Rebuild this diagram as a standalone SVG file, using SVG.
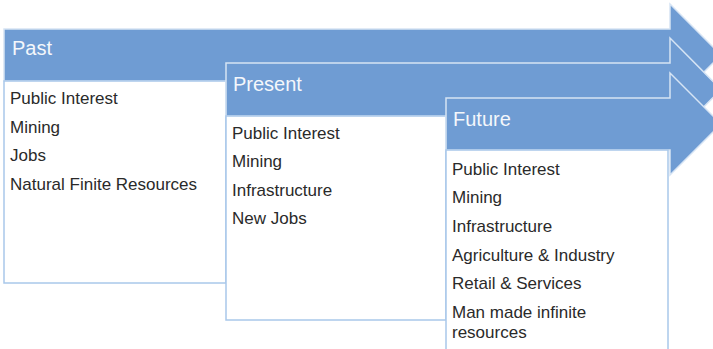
<svg xmlns="http://www.w3.org/2000/svg" width="713" height="349" viewBox="0 0 713 349">
<style>
.arrow{fill:#6f9cd3;stroke:#d6e4f4;stroke-width:1.5}
.box{fill:#ffffff;stroke:#a9c8ea;stroke-width:1.5}
.hd{font-family:"Liberation Sans",Arial,sans-serif;font-size:20px;fill:#f4f7fb}
.tx{font-family:"Liberation Sans",Arial,sans-serif;font-size:17px;fill:#2a2a2a}
</style>
<rect width="713" height="349" fill="#ffffff"/>
<g id="past">
<path class="arrow" d="M4,29 H670 V4 L721,55 L670,106 V81 H4 Z"/>
<rect class="box" x="4" y="81" width="222" height="202"/>
<text class="hd" x="12" y="55">Past</text>
<text class="tx" x="10" y="104">Public Interest</text>
<text class="tx" x="10" y="133">Mining</text>
<text class="tx" x="10" y="161">Jobs</text>
<text class="tx" x="10" y="190">Natural Finite Resources</text>
</g>
<g id="present">
<path class="arrow" d="M226,63 H670 V38 L721,89.5 L670,141 V116 H226 Z"/>
<rect class="box" x="226" y="116" width="220" height="204"/>
<text class="hd" x="233" y="91">Present</text>
<text class="tx" x="232" y="139">Public Interest</text>
<text class="tx" x="232" y="167">Mining</text>
<text class="tx" x="232" y="196">Infrastructure</text>
<text class="tx" x="232" y="224">New Jobs</text>
</g>
<g id="future">
<path class="arrow" d="M446,98 H670 V73 L721,124 L670,175 V150 H446 Z"/>
<rect class="box" x="446" y="150" width="222" height="204"/>
<text class="hd" x="453" y="126">Future</text>
<text class="tx" x="452" y="175">Public Interest</text>
<text class="tx" x="452" y="203">Mining</text>
<text class="tx" x="452" y="232">Infrastructure</text>
<text class="tx" x="452" y="261">Agriculture &amp; Industry</text>
<text class="tx" x="452" y="289">Retail &amp; Services</text>
<text class="tx" x="452" y="318">Man made infinite</text>
<text class="tx" x="452" y="338">resources</text>
</g>
<g id="connectors"></g>
</svg>
